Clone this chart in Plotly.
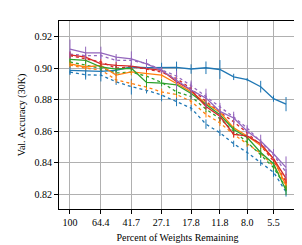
import plotly.graph_objects as go

# Percent of weights remaining at each pruning round
pct = [100, 80.0, 64.4, 51.8, 41.7, 33.6, 27.1, 21.9, 17.8, 14.4, 11.8, 9.7, 8.0, 6.6, 5.5, 4.6]

tick_vals = [100, 64.4, 41.7, 27.1, 17.8, 11.8, 8.0, 5.5]
tick_text = ["100", "64.4", "41.7", "27.1", "17.8", "11.8", "8.0", "5.5"]
y_ticks = [0.82, 0.84, 0.86, 0.88, 0.90, 0.92]

# Solid series (mean) and their error half-widths
blue_solid = [0.8987, 0.8982, 0.8980, 0.8987, 0.9008, 0.9003, 0.9005, 0.9005, 0.8995, 0.9003, 0.8992, 0.8945, 0.8928, 0.8883, 0.8807, 0.8772]
blue_solid_err = [0.003, 0.004, 0.003, 0.004, 0.002, 0.002, 0.003, 0.0037, 0.003, 0.004, 0.006, 0.002, 0.001, 0.0037, 0.002, 0.0045]
orange_solid = [0.9028, 0.9008, 0.9018, 0.8956, 0.8977, 0.8966, 0.8956, 0.8903, 0.8850, 0.8778, 0.8720, 0.8621, 0.8570, 0.8510, 0.8426, 0.8256]
orange_solid_err = [0.002, 0.002, 0.002, 0.002, 0.002, 0.002, 0.002, 0.002, 0.002, 0.003, 0.002, 0.002, 0.002, 0.002, 0.002, 0.003]
green_solid = [0.9056, 0.9050, 0.9008, 0.8995, 0.9000, 0.8910, 0.8905, 0.8895, 0.8840, 0.8768, 0.8705, 0.8611, 0.8560, 0.8465, 0.8394, 0.8225]
green_solid_err = [0.002, 0.002, 0.002, 0.002, 0.002, 0.003, 0.002, 0.003, 0.002, 0.002, 0.002, 0.002, 0.002, 0.003, 0.002, 0.003]
red_solid = [0.9085, 0.9070, 0.9028, 0.9018, 0.9014, 0.8997, 0.8987, 0.8914, 0.8862, 0.8757, 0.8695, 0.8580, 0.8570, 0.8520, 0.8426, 0.8300]
red_solid_err = [0.002, 0.002, 0.002, 0.002, 0.002, 0.002, 0.002, 0.002, 0.002, 0.002, 0.003, 0.002, 0.002, 0.002, 0.002, 0.003]
purple_solid = [0.9122, 0.9097, 0.9097, 0.9070, 0.9060, 0.9028, 0.8987, 0.8925, 0.8862, 0.8810, 0.8726, 0.8684, 0.8600, 0.8538, 0.8457, 0.8370]
purple_solid_err = [0.006, 0.004, 0.004, 0.002, 0.0047, 0.003, 0.002, 0.006, 0.006, 0.006, 0.004, 0.004, 0.003, 0.004, 0.003, 0.007]

# Dotted series
blue_dot = [0.8975, 0.8958, 0.8956, 0.8914, 0.8883, 0.8860, 0.8830, 0.8789, 0.8747, 0.8645, 0.8590, 0.8520, 0.8465, 0.8400, 0.8340, 0.8215]
blue_dot_err = [0.001, 0.003, 0.004, 0.002, 0.005, 0.002, 0.004, 0.003, 0.002, 0.003, 0.002, 0.002, 0.005, 0.002, 0.003, 0.003]
orange_dot = [0.9020, 0.9000, 0.8990, 0.8926, 0.8903, 0.8880, 0.8850, 0.8833, 0.8790, 0.8707, 0.8653, 0.8580, 0.8520, 0.8460, 0.8380, 0.8260]
green_dot = [0.9040, 0.9020, 0.9000, 0.8970, 0.8975, 0.8950, 0.8910, 0.8850, 0.8820, 0.8740, 0.8680, 0.8600, 0.8530, 0.8450, 0.8370, 0.8240]
red_dot = [0.9080, 0.9060, 0.9040, 0.9000, 0.9010, 0.8995, 0.8975, 0.8935, 0.8870, 0.8790, 0.8720, 0.8660, 0.8590, 0.8510, 0.8410, 0.8280]
purple_dot = [0.9090, 0.9080, 0.9080, 0.9050, 0.9050, 0.9030, 0.8990, 0.8950, 0.8890, 0.8820, 0.8760, 0.8690, 0.8620, 0.8530, 0.8450, 0.8340]
dot_err = [0.002, 0.002, 0.002, 0.002, 0.002, 0.002, 0.002, 0.002, 0.002, 0.002, 0.002, 0.002, 0.002, 0.002, 0.002, 0.002]

BLUE, ORANGE, GREEN, RED, PURPLE = "#1f77b4", "#ff7f0e", "#2ca02c", "#d62728", "#9467bd"

series = [
    (blue_dot, blue_dot_err, BLUE, "dot"),
    (orange_dot, dot_err, ORANGE, "dot"),
    (green_dot, dot_err, GREEN, "dot"),
    (red_dot, dot_err, RED, "dot"),
    (purple_dot, dot_err, PURPLE, "dot"),
    (blue_solid, blue_solid_err, BLUE, "solid"),
    (orange_solid, orange_solid_err, ORANGE, "solid"),
    (green_solid, green_solid_err, GREEN, "solid"),
    (red_solid, red_solid_err, RED, "solid"),
    (purple_solid, purple_solid_err, PURPLE, "solid"),
]

fig = go.Figure()
for ys, err, color, dash in series:
    fig.add_trace(go.Scatter(
        x=pct, y=ys, mode="lines",
        line=dict(color=color, width=1.3, dash=dash),
        error_y=dict(type="data", array=err, visible=True, color=color,
                     thickness=1, width=0),
        showlegend=False,
    ))

font = dict(family="Liberation Serif, Times New Roman, serif", size=10, color="black")

fig.update_layout(
    width=302, height=245,
    margin=dict(l=48, r=14, t=13, b=41),
    paper_bgcolor="white", plot_bgcolor="white",
    font=font,
    xaxis=dict(
        type="log", range=[2.068, 0.601],
        tickvals=tick_vals, ticktext=tick_text,
        showgrid=True, gridcolor="#b0b0b0", gridwidth=1,
        showline=True, linecolor="black", linewidth=1, mirror=True,
        ticks="outside", ticklen=4, tickcolor="black",
        title=dict(text="Percent of Weights Remaining", font=font, standoff=6),
        zeroline=False,
    ),
    yaxis=dict(
        range=[0.8106, 0.9300],
        tickvals=y_ticks, tickformat=".2f",
        showgrid=True, gridcolor="#b0b0b0", gridwidth=1,
        showline=True, linecolor="black", linewidth=1, mirror=True,
        ticks="outside", ticklen=4, tickcolor="black",
        title=dict(text="Val. Accuracy (30K)", font=font, standoff=7),
        zeroline=False,
    ),
)

fig.write_html("out.html", config={"displayModeBar": False})
